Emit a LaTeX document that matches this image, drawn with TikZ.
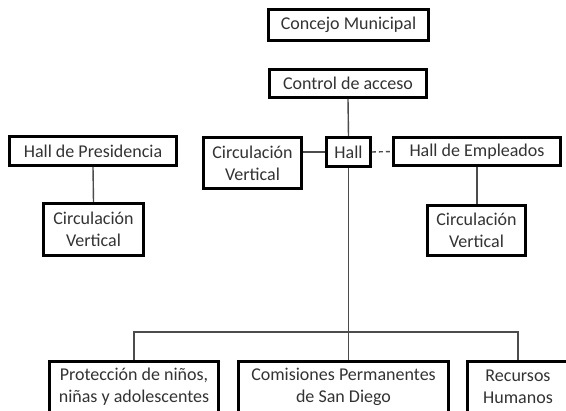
\documentclass[tikz,border=0pt]{standalone}
\usepackage{fontspec}
\setmainfont{Carlito}
\begin{document}
\begin{tikzpicture}[x=1pt,y=-1pt,
  orgbox/.style={draw=black, line width=2.6pt, fill=white, text=black!80,
    align=center, inner sep=0pt, font=\fontsize{18}{22}\selectfont},
  link/.style={draw=black!70, line width=1.4pt}]
\useasboundingbox (0,0) rectangle (566,411);
\clip (0,0) rectangle (566,411);
\fill[white] (0,0) rectangle (566,411);
\node[orgbox, minimum width=160pt, minimum height=31pt] (concejo) at (348.5,25) {Concejo Municipal};
\node[orgbox, minimum width=157pt, minimum height=28pt] (control) at (348,83.5) {Control de acceso};
\node[orgbox, minimum width=44pt, minimum height=29pt] (hall) at (348.5,152) {Hall};
\node[orgbox, minimum width=98pt, minimum height=51pt] (circm) at (252.5,163) {Circulación\\Vertical};
\node[orgbox, minimum width=167pt, minimum height=28pt] (empl) at (477,151.5) {Hall de Empleados};
\node[orgbox, minimum width=167pt, minimum height=29pt] (pres) at (93,151) {Hall de Presidencia};
\node[orgbox, minimum width=100pt, minimum height=52pt] (circl) at (93.5,229.5) {Circulación\\Vertical};
\node[orgbox, minimum width=98pt, minimum height=50pt] (circr) at (476.5,230.5) {Circulación\\Vertical};
\node[orgbox, minimum width=169pt, minimum height=51pt] (prot) at (134,387) {Protección de niños,\\niñas y adolescentes};
\node[orgbox, minimum width=210pt, minimum height=51pt] (comi) at (343.5,387) {Comisiones Permanentes\\de San Diego};
\node[orgbox, minimum width=101pt, minimum height=51pt] (recu) at (518,387) {Recursos\\Humanos};
\coordinate (busl) at (134,332);
\draw[link] (control.south) -- (hall.north);
\draw[link] (hall.south) -- (hall.south |- comi.north);
\draw[link] (prot.north) -- (busl) -| (recu.north);
\draw[link] (hall.west) -- (hall.west -| circm.east);
\draw[link, dashed, dash pattern=on 4pt off 3pt] (hall.east) -- (empl.west);
\draw[link] (pres.south) -- (circl.north);
\draw[link] (empl.south) -- (empl.south |- circr.north);
\end{tikzpicture}
\end{document}
